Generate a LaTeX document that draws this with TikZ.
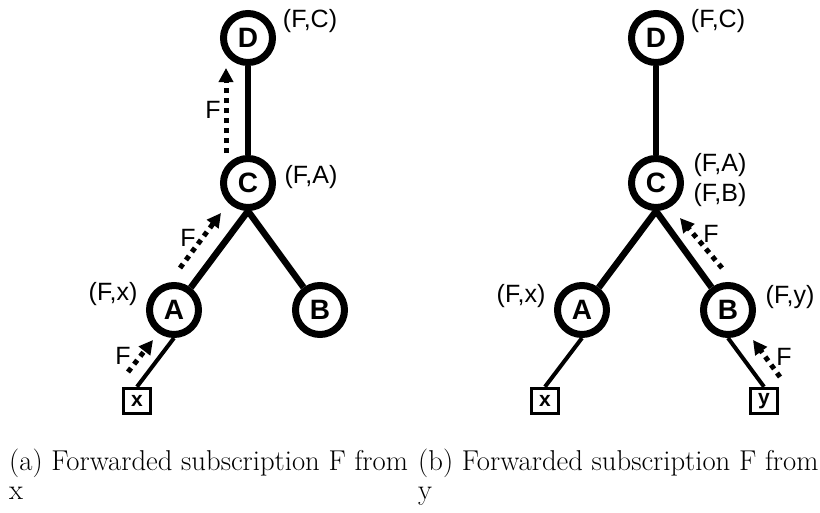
\documentclass[tikz,border=0pt]{standalone}
\usepackage{fontspec}
\newfontfamily\lab{Liberation Sans}
\usetikzlibrary{arrows.meta}
\begin{document}
\begin{tikzpicture}[x=1pt,y=-1pt,
  vtx/.style={circle,draw,line width=7pt,minimum size=49pt,inner sep=0pt,font=\lab\bfseries\fontsize{28}{28}\selectfont},
  leaf/.style={rectangle,draw,line width=3.5pt,minimum width=27pt,minimum height=25pt,inner sep=0pt,font=\lab\bfseries\fontsize{21}{21}\selectfont},
  tree/.style={line width=6.5pt},
  thinedge/.style={line width=4pt},
  fwd/.style={line width=5pt,dash pattern=on 5pt off 5pt,-{Triangle[length=14pt,width=14pt]}},
  lbl/.style={font=\lab\fontsize{25}{29}\selectfont,inner sep=0pt},
  captext/.style={font=\fontsize{28.7}{30}\selectfont,inner sep=0pt,anchor=base west}]
\useasboundingbox (0,0) rectangle (820,512);
% ---------- left panel ----------
\node[vtx] (D1) at (248,38) {D};
\node[vtx] (C1) at (248,183) {C};
\node[vtx] (A1) at (174,310) {A};
\node[vtx] (B1) at (320,310) {B};
\node[leaf] (x1) at (137,401) {x};
\draw[tree] (D1) -- (C1);
\draw[tree] (C1.south) -- (A1);
\draw[tree] (C1.south) -- (B1);
\draw[thinedge] (x1.north) -- (A1.south);
\node[lbl] (lD1) at (310,21) {(F,C)};
\node[lbl] (lC1) at (311,177) {(F,A)};
\node[lbl] (lA1) at (113,294) {(F,x)};
\coordinate (p1s) at (226,153); \coordinate (p1e) at (226,68);
\draw[fwd] (p1s) -- (p1e);
\node[lbl] (F1) at (213,110) {F};
\coordinate (p2s) at (180,268); \coordinate (p2e) at (221,213);
\draw[fwd] (p2s) -- (p2e);
\node[lbl] (F2) at (188,238) {F};
\coordinate (p3s) at (128,372); \coordinate (p3e) at (153,340);
\draw[fwd] (p3s) -- (p3e);
\node[lbl] (F3) at (123,356) {F};
% ---------- right panel ----------
\node[vtx] (D2) at (656,38) {D};
\node[vtx] (C2) at (656,183) {C};
\node[vtx] (A2) at (582,310) {A};
\node[vtx] (B2) at (728,310) {B};
\node[leaf] (x2) at (545,401) {x};
\node[leaf] (y2) at (764,401) {y};
\draw[tree] (D2) -- (C2);
\draw[tree] (C2.south) -- (A2);
\draw[tree] (C2.south) -- (B2);
\draw[thinedge] (x2.north) -- (A2.south);
\draw[thinedge] (y2.north) -- (B2.south);
\node[lbl] (lD2) at (718,21) {(F,C)};
\node[lbl] (lC2a) at (720,165) {(F,A)};
\node[lbl] (lC2b) at (720,195) {(F,B)};
\node[lbl] (lA2) at (521,296) {(F,x)};
\node[lbl] (lB2) at (790,297) {(F,y)};
\coordinate (q1s) at (722,268); \coordinate (q1e) at (680,218);
\draw[fwd] (q1s) -- (q1e);
\node[lbl] (G1) at (711,234) {F};
\coordinate (q2s) at (780,377); \coordinate (q2e) at (753,340);
\draw[fwd] (q2s) -- (q2e);
\node[lbl] (G2) at (784,357) {F};
% ---------- captions ----------
\node[captext] (capa) at (9,470) {(a) Forwarded subscription F from};
\node[captext] (capa2) at (9,499) {x};
\node[captext] (capb) at (418,470) {(b) Forwarded subscription F from};
\node[captext] (capb2) at (418,499) {y};
\end{tikzpicture}
\end{document}
